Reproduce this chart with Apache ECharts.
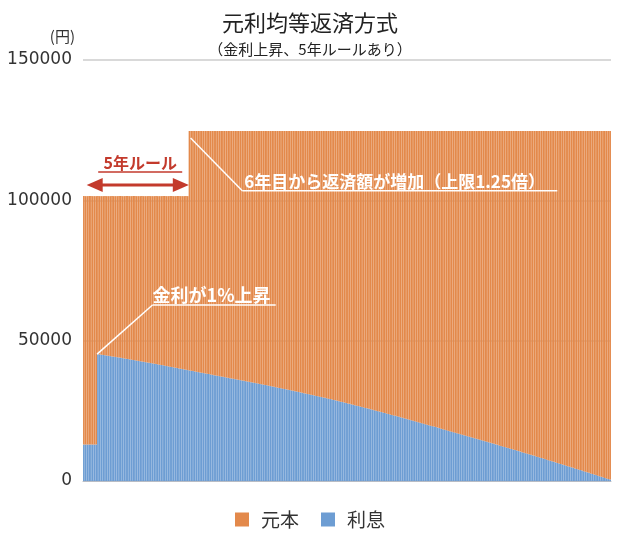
<!DOCTYPE html>
<html><head><meta charset="utf-8">
<script src="https://cdn.jsdelivr.net/npm/echarts@6/dist/echarts.min.js"></script>
<style>html,body{margin:0;padding:0;background:#fff}#c{width:620px;height:539px}</style>
</head><body><div id="c"></div>
<script>
// ---- data ----
const seriesNames = ['元本', '利息'];
const yTicks = [0, 50000, 100000, 150000];
// monthly interest (円), 300 payments
const interest = [
13000,13000,13000,13000,13000,13000,13000,13000,45200,45100,
45000,44900,44800,44700,44600,44500,44400,44300,44200,44100,
44000,43890,43780,43670,43560,43450,43340,43230,43120,43010,
42900,42790,42680,42570,42460,42350,42240,42130,42020,41910,
41800,41680,41560,41440,41320,41200,41080,40960,40840,40720,
40600,40480,40360,40240,40120,40000,39880,39760,39640,39520,
39400,39280,39160,39040,38920,38800,38680,38560,38440,38320,
38200,38080,37960,37840,37720,37600,37480,37360,37240,37120,
37000,36880,36760,36640,36520,36400,36280,36160,36040,35920,
35800,35680,35560,35440,35320,35200,35080,34960,34840,34720,
34600,34470,34340,34210,34080,33950,33820,33690,33560,33430,
33300,33170,33040,32910,32780,32650,32520,32390,32260,32130,
32000,31860,31720,31580,31440,31300,31160,31020,30880,30740,
30600,30460,30320,30180,30040,29900,29760,29620,29480,29340,
29200,29045,28890,28735,28580,28425,28270,28115,27960,27805,
27650,27490,27330,27170,27010,26850,26690,26530,26370,26210,
26050,25885,25720,25555,25390,25225,25060,24895,24730,24565,
24400,24230,24060,23890,23720,23550,23380,23210,23040,22870,
22700,22525,22350,22175,22000,21825,21650,21475,21300,21125,
20950,20775,20600,20425,20250,20075,19900,19725,19550,19375,
19200,19020,18840,18660,18480,18300,18120,17940,17760,17580,
17400,17220,17040,16860,16680,16500,16320,16140,15960,15780,
15600,15420,15240,15060,14880,14700,14520,14340,14160,13980,
13800,13615,13430,13245,13060,12875,12690,12505,12320,12135,
11950,11765,11580,11395,11210,11025,10840,10655,10470,10285,
10100,9910,9720,9530,9340,9150,8960,8770,8580,8390,
8200,8005,7810,7615,7420,7225,7030,6835,6640,6445,
6250,6055,5860,5665,5470,5275,5080,4885,4690,4495,
4300,4100,3900,3700,3500,3300,3100,2900,2700,2500,
2300,2100,1900,1700,1500,1300,1100,900,700,500
];
// total monthly payment (円): 60 months before the review, 240 after
const paymentFirst5y = 101500;
const paymentAfter = 124700;
const months = interest.map((_, i) => String(i + 1));
const payment = months.map((_, i) => (i < 60 ? paymentFirst5y : paymentAfter));
const principal = payment.map((p, i) => p - interest[i]);

const ORANGE = '#E3894B', BLUE = '#6D9DD3', RED = '#C33A2C';
const FONT = '"Noto Sans CJK JP", "Noto Sans", sans-serif';

const chart = echarts.init(document.getElementById('c'), null, {renderer: 'canvas'});
chart.setOption({
  animation: false,
  textStyle: {fontFamily: FONT},
  title: [
    {text: '元利均等返済方式', left: 'center', top: 7,
     textStyle: {fontSize: 22, fontWeight: 'normal', color: '#222', fontFamily: FONT}},
    {text: '（金利上昇、5年ルールあり）', left: 'center', top: 37,
     textStyle: {fontSize: 15, fontWeight: 'normal', color: '#222', fontFamily: FONT}}
  ],
  legend: {
    data: seriesNames, bottom: 5, left: 'center', icon: 'rect',
    itemWidth: 14, itemHeight: 14, itemGap: 22,
    textStyle: {fontSize: 19, color: '#333', fontFamily: FONT, padding: [0, 0, 0, 7]}
  },
  grid: {left: 83, right: 9, top: 60, bottom: 58, containLabel: false},
  xAxis: {
    type: 'category', data: months,
    axisLine: {show: true, lineStyle: {color: '#b8bcc4', width: 1}},
    axisTick: {show: false}, axisLabel: {show: false}, splitLine: {show: false}
  },
  yAxis: {
    type: 'value', min: yTicks[0], max: yTicks[yTicks.length - 1], interval: 50000,
    name: '(円)', nameLocation: 'end', nameGap: 16,
    nameTextStyle: {fontSize: 15, color: '#333', align: 'right', padding: [0, 8, 0, 0]},
    axisLine: {show: false}, axisTick: {show: false},
    axisLabel: {fontSize: 17, color: '#333', margin: 11, fontFamily: '"DejaVu Sans", sans-serif',
                padding: [4, 0, 0, 0], formatter: (v) => String(v)},
    splitLine: {lineStyle: {color: '#d9d9d9', width: 2}}
  },
  series: [
    {name: '利息', type: 'bar', stack: 'pay', data: interest, barCategoryGap: '5%',
     itemStyle: {color: BLUE}, emphasis: {disabled: true}},
    {name: '元本', type: 'bar', stack: 'pay', data: principal, barCategoryGap: '5%',
     itemStyle: {color: ORANGE}, emphasis: {disabled: true}}
  ]
});

// ---- annotations, placed through the chart's own scales ----
const px = (i, v) => chart.convertToPixel({gridIndex: 0}, [i, v]);
const bw = px(1, 0)[0] - px(0, 0)[0];
const Z = 100;
const g = [];
// 5年ルール double arrow
const aL = px(5, 105500), aR = px(58, 105500);
const ax0 = aL[0] - 6, ax1 = aR[0] + bw / 2 + 2, ay = aL[1];
g.push({type: 'line', z: Z, shape: {x1: ax0 + 12, y1: ay, x2: ax1 - 12, y2: ay}, style: {stroke: RED, lineWidth: 3}});
g.push({type: 'polygon', z: Z, shape: {points: [[ax0, ay], [ax0 + 16, ay - 7], [ax0 + 16, ay + 7]]}, style: {fill: RED}});
g.push({type: 'polygon', z: Z, shape: {points: [[ax1, ay], [ax1 - 16, ay - 7], [ax1 - 16, ay + 7]]}, style: {fill: RED}});
const tR = px(32, 113300);
g.push({type: 'text', z: Z, x: tR[0], y: tR[1], style: {text: '5年ルール', fill: RED, font: 'bold 16px ' + FONT, textAlign: 'center', textVerticalAlign: 'middle'}});
g.push({type: 'line', z: Z, shape: {x1: tR[0] - 42, y1: tR[1] + 9, x2: tR[0] + 42, y2: tR[1] + 9}, style: {stroke: RED, lineWidth: 1.5}});

// 6年目から返済額が増加
const s0 = px(60, paymentAfter);
const s1 = px(89.5, 103400);
const s2 = px(269, 103400);
g.push({type: 'line', z: Z, shape: {x1: s0[0] - bw / 2 + 2, y1: s0[1] + 7, x2: s1[0], y2: s1[1]}, style: {stroke: '#fff', lineWidth: 1.5}});
g.push({type: 'line', z: Z, shape: {x1: s1[0], y1: s1[1], x2: s2[0], y2: s2[1]}, style: {stroke: '#fff', lineWidth: 1.5}});
g.push({type: 'text', z: Z, x: s1[0] + 2, y: s1[1] - 1, style: {text: '6年目から返済額が増加（上限1.25倍）', fill: '#fff', font: 'bold 17px ' + FONT, textAlign: 'left', textVerticalAlign: 'bottom'}});

// 金利が1%上昇
const k0 = px(8, interest[8]);
const k1 = px(38.6, 62700);
const k2 = px(109, 62700);
g.push({type: 'line', z: Z, shape: {x1: k0[0] - bw / 2, y1: k0[1], x2: k1[0], y2: k1[1]}, style: {stroke: '#fff', lineWidth: 1.5}});
g.push({type: 'line', z: Z, shape: {x1: k1[0], y1: k1[1], x2: k2[0], y2: k2[1]}, style: {stroke: '#fff', lineWidth: 1.5}});
g.push({type: 'text', z: Z, x: k1[0], y: k1[1] - 1, style: {text: '金利が1%上昇', fill: '#fff', font: 'bold 18px ' + FONT, textAlign: 'left', textVerticalAlign: 'bottom'}});

chart.setOption({graphic: {elements: g}});
</script>
</body></html>
